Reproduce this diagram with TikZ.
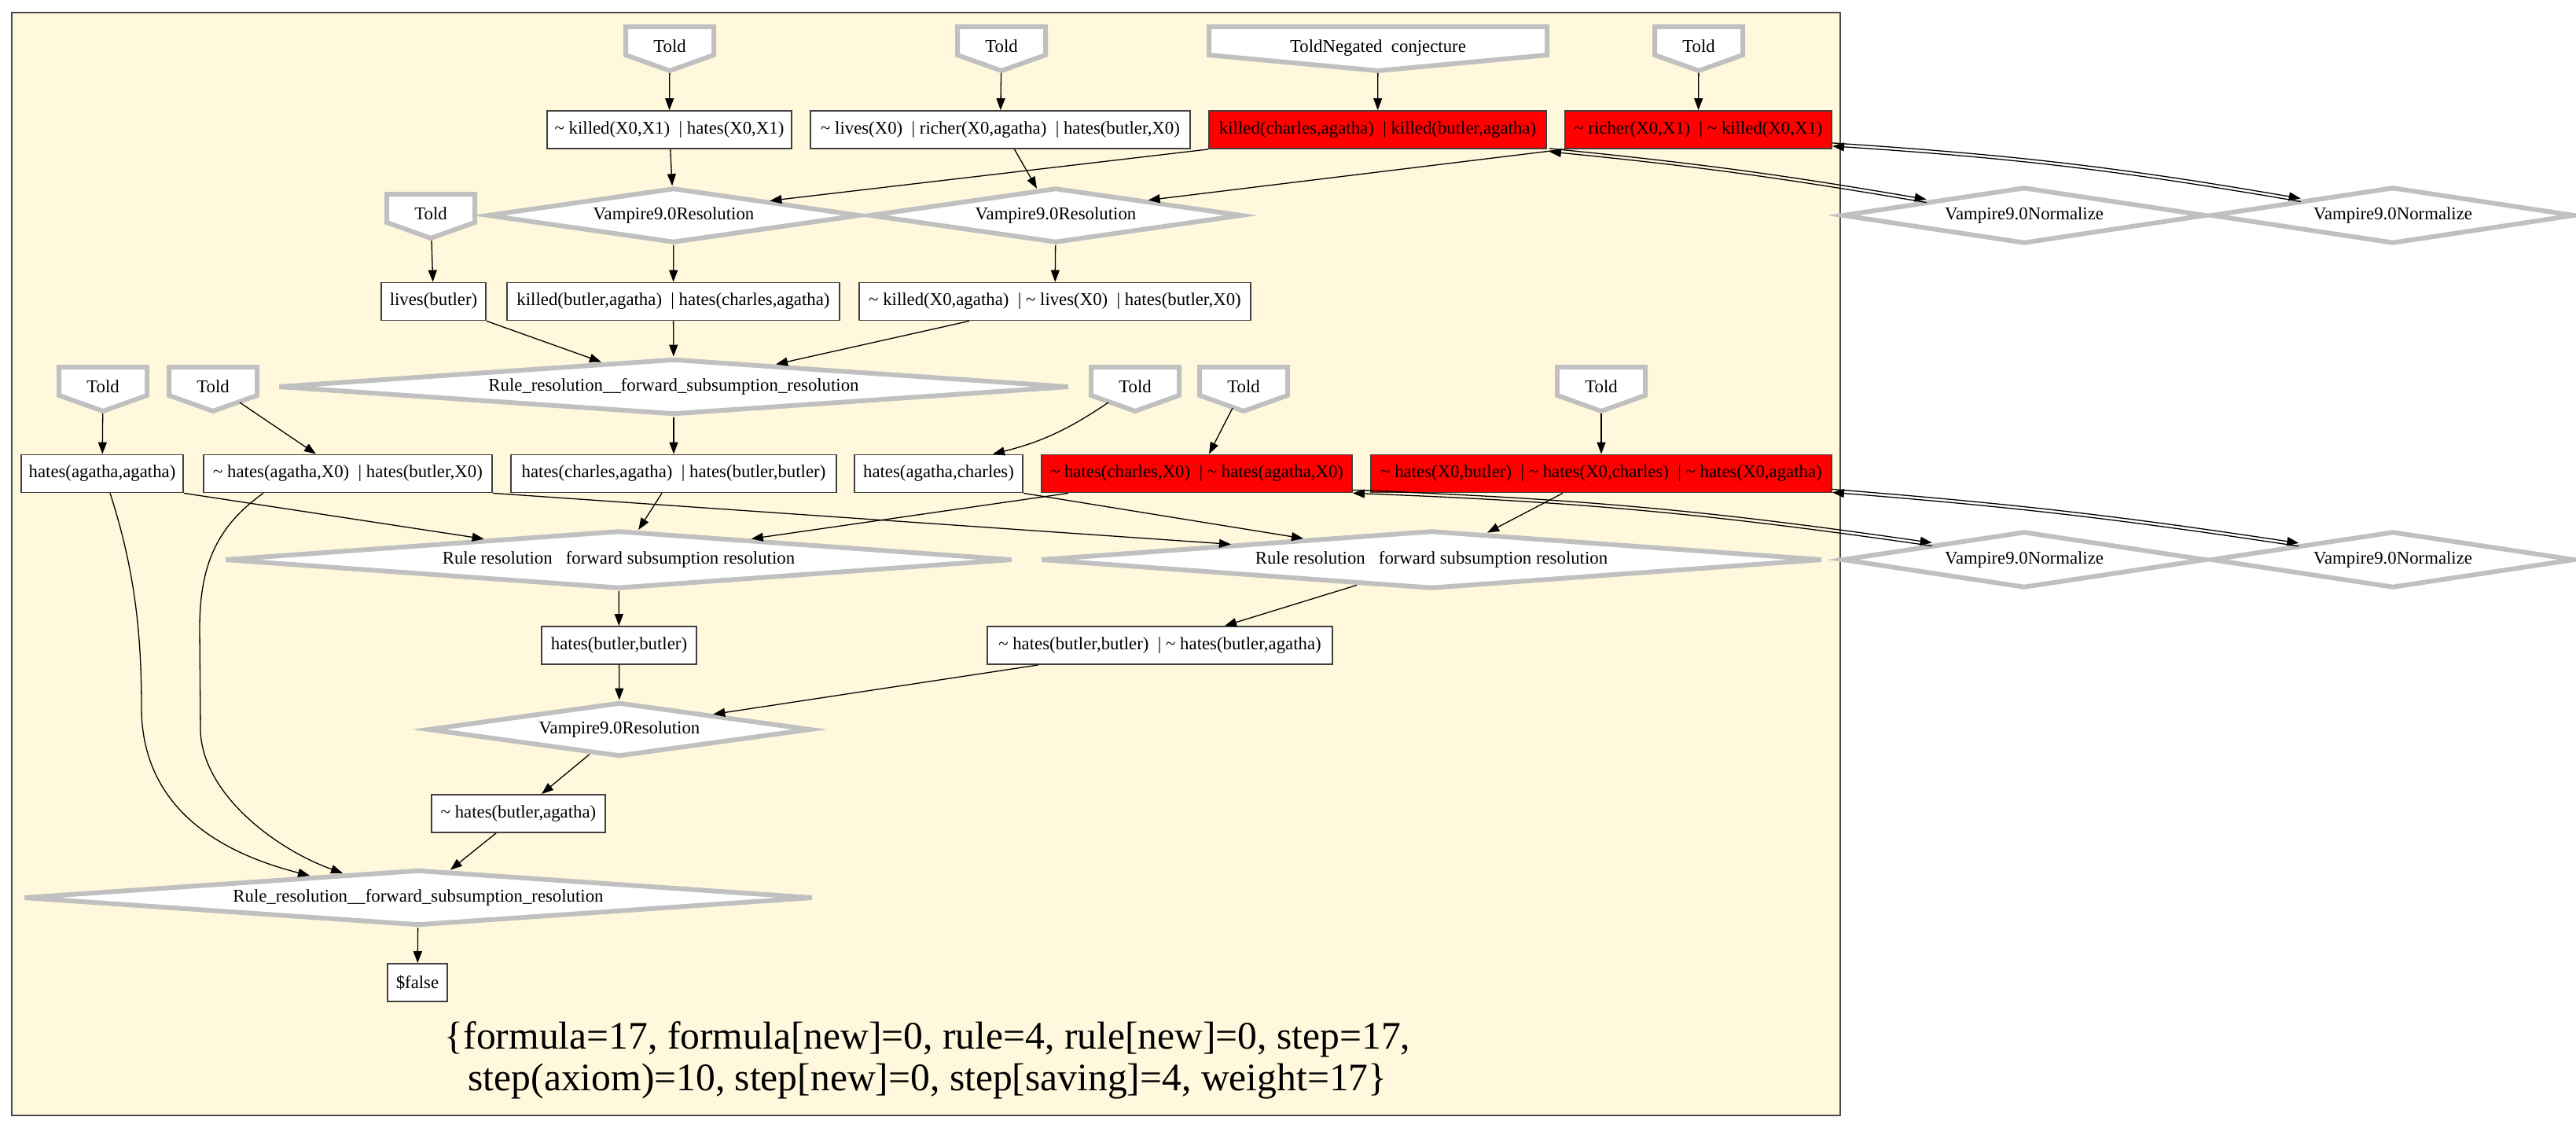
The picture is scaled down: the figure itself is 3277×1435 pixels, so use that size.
\documentclass[tikz,border=0pt]{standalone}
\usepackage{fontspec}
\setmainfont{Liberation Serif}
\usetikzlibrary{shapes.geometric,arrows.meta,calc}
\definecolor{cornsilk}{HTML}{FFF8DC}
\definecolor{gvgray}{HTML}{C0C0C0}
\newcommand{\nfont}{\fontsize{11.4}{13}\selectfont}
\tikzset{
  box/.style={draw=black!75, line width=0.9pt, fill=white, minimum height=24pt, inner sep=0pt, font=\nfont},
  redbox/.style={box, fill=red},
  resd/.style={diamond, draw=gvgray, line width=3pt, fill=white, inner sep=0pt, aspect=6, font=\nfont},
  ruled/.style={diamond, draw=gvgray, line width=3pt, fill=white, inner sep=0pt, aspect=14, font=\nfont},
  toldn/.style={rectangle, minimum height=28pt, inner sep=0pt, outer sep=0pt, font=\nfont},
  toldline/.style={draw=gvgray, line width=3pt, fill=white, line join=miter},
  edge/.style={draw=black, line width=0.65pt, -{Triangle[length=7.5pt,width=5.5pt]}},
  tedge/.style={edge, shorten <=1.5pt},
  redge/.style={draw=black, line width=0.65pt, {Triangle[length=7.5pt,width=5.5pt]}-},
}
\newcommand{\told}[5]{%
  \draw[toldline] (#2-#4,#3-28) -- (#2+#4,#3-28) -- (#2+#4,#3+8) -- (#2,#3+28) -- (#2-#4,#3+8) -- cycle;
  \node[toldn, minimum width=#4pt] (#1) at (#2,#3) {\raisebox{3pt}{#5}};
}
\newcommand{\tl}{\textasciitilde\ }
\begin{document}
\begin{tikzpicture}[x=0.5pt,y=-0.5pt]
\useasboundingbox (0,0) rectangle (3277,1435);
\filldraw[fill=cornsilk, draw=black!70, line width=0.8pt] (15,16) rectangle (2341,1419);

% Told nodes
\told{t1}{852}{62}{56}{Told}
\told{t2}{1274}{62}{56}{Told}
\told{t3}{1753}{62}{215}{ToldNegated\ \ conjecture}
\told{t4}{2161}{62}{56}{Told}
\told{t5}{548}{275}{56}{Told}
\told{tA}{131}{495}{56}{Told}
\told{tB}{271}{495}{56}{Told}
\told{tC}{1444}{495}{56}{Told}
\told{tD}{1582}{495}{56}{Told}
\told{tE}{2037}{495}{56}{Told}

% clause boxes
\node[box, minimum width=155.5pt] (b1) at (851.5,165) {\tl killed(X0,X1)\ \ |\ hates(X0,X1)};
\node[box, minimum width=241.5pt] (b2) at (1272.5,165) {\tl lives(X0)\ \ |\ richer(X0,agatha)\ \ |\ hates(butler,X0)};
\node[redbox, minimum width=214.5pt] (b3) at (1752.5,165) {killed(charles,agatha)\ \ |\ killed(butler,agatha)};
\node[redbox, minimum width=169.5pt] (b4) at (2160.5,165) {\tl richer(X0,X1)\ \ |\ \tl killed(X0,X1)};
\node[box, minimum width=66.5pt] (b5) at (551.5,383.5) {lives(butler)};
\node[box, minimum width=211.5pt] (b6) at (856.5,383.5) {killed(butler,agatha)\ \ |\ hates(charles,agatha)};
\node[box, minimum width=249pt] (b7) at (1342,383.5) {\tl killed(X0,agatha)\ \ |\ \tl lives(X0)\ \ |\ hates(butler,X0)};
\node[box, minimum width=103pt] (b8) at (130,602.5) {hates(agatha,agatha)};
\node[box, minimum width=183.5pt] (b9) at (442.5,602.5) {\tl hates(agatha,X0)\ \ |\ hates(butler,X0)};
\node[box, minimum width=207pt] (b10) at (857,602.5) {hates(charles,agatha)\ \ |\ hates(butler,butler)};
\node[box, minimum width=107pt] (b11) at (1194,602.5) {hates(agatha,charles)};
\node[redbox, minimum width=197.5pt] (b12) at (1522.5,602.5) {\tl hates(charles,X0)\ \ |\ \tl hates(agatha,X0)};
\node[redbox, minimum width=293pt] (b13) at (2037,602.5) {\tl hates(X0,butler)\ \ |\ \tl hates(X0,charles)\ \ |\ \tl hates(X0,agatha)};
\node[box, minimum width=98.5pt] (b14) at (787.5,821) {hates(butler,butler)};
\node[box, minimum width=219.5pt] (b15) at (1475.5,821) {\tl hates(butler,butler)\ \ |\ \tl hates(butler,agatha)};
\node[box, minimum width=110.5pt] (b16) at (659.5,1035) {\tl hates(butler,agatha)};
\node[box, minimum width=38pt] (b17) at (531,1250) {\$false};

% inference diamonds
\node[resd, minimum width=237pt, minimum height=35pt] (r1) at (857,274) {Vampire9.0Resolution};
\node[resd, minimum width=237pt, minimum height=35pt] (r2) at (1343,274) {Vampire9.0Resolution};
\node[resd, minimum width=231.5pt, minimum height=36pt] (n1) at (2575,274) {Vampire9.0Normalize};
\node[resd, minimum width=231.5pt, minimum height=36pt] (n2) at (3044,274) {Vampire9.0Normalize};
\node[ruled, minimum width=503pt, minimum height=35.5pt] (R1) at (857,492) {Rule\_resolution\_\_forward\_subsumption\_resolution};
\node[ruled, minimum width=501pt, minimum height=37pt] (R2) at (787,712) {Rule\ resolution\ \ \ forward\ subsumption\ resolution};
\node[ruled, minimum width=497pt, minimum height=37pt] (R3) at (1821,712) {Rule\ resolution\ \ \ forward\ subsumption\ resolution};
\node[resd, minimum width=231.5pt, minimum height=36pt] (n3) at (2575,712) {Vampire9.0Normalize};
\node[resd, minimum width=231.5pt, minimum height=36pt] (n4) at (3044,712) {Vampire9.0Normalize};
\node[resd, minimum width=243.5pt, minimum height=34.5pt] (r3) at (788,928) {Vampire9.0Resolution};
\node[ruled, minimum width=502pt, minimum height=35.5pt] (R4) at (532,1142) {Rule\_resolution\_\_forward\_subsumption\_resolution};

% statistics label
\node[font=\fontsize{24.8}{26.5}\selectfont, align=center] (lbl) at (1180,1349)
  {\{formula=17, formula[new]=0, rule=4, rule[new]=0, step=17,\\ step(axiom)=10, step[new]=0, step[saving]=4, weight=17\}};

% edges from Told
\draw[tedge] (t1) -- (b1);
\draw[tedge] (t2) -- (b2);
\draw[tedge] (t3) -- (b3);
\draw[tedge] (t4) -- (b4);
\draw[tedge] (t5) -- (b5);
\draw[tedge] (tA) -- (b8);
\draw[edge] ($(tB.center)+(34,17)$) -- ($(b9.north)+(-40.5,0)$);
\draw[edge] ($(tC.center)+(-34,17)$) to[bend left=10] ($(b11.north)+(69,0)$);
\draw[edge] ($(tD.center)+(-14,24)$) -- ($(b12.north)+(15.5,0)$);
\draw[tedge] (tE) -- (b13);

% upper part
\draw[edge] (b1) -- (r1);
\draw[edge] ($(b2.south)+(18,0)$) -- ($(r2.west)!0.9!(r2.north)$);
\draw[edge] (b3.south west) -- ($(r1.north)!0.51!(r1.east)$);
\draw[edge] (b4.south west) -- ($(r2.north)!0.49!(r2.east)$);
\draw[edge] (r1) -- (b6);
\draw[edge] (r2) -- (b7);
\draw[edge] (b5.south east) -- ($(R1.west)!0.818!(R1.north)$);
\draw[edge] (b6) -- (R1);
\draw[edge] ($(b7.south west)+(141,0)$) -- ($(R1.north)!0.257!(R1.east)$);
\draw[edge] (R1) -- (b10);

% middle part
\draw[edge] (b8.south east) -- ($(R2.west)!0.66!(R2.north)$);
\draw[edge] ($(b10.south)+(-15,0)$) -- ($(R2.north)!0.05!(R2.east)$);
\draw[edge] ($(b12.south west)+(35,0)$) -- ($(R2.north)!0.335!(R2.east)$);
\draw[edge] (b9.south east) -- ($(R3.west)!0.49!(R3.north)$);
\draw[edge] (b11.south east) -- ($(R3.west)!0.674!(R3.north)$);
\draw[edge] ($(b13.south)+(-49,0)$) -- ($(R3.north)!0.142!(R3.east)$);
\draw[edge] (R2) -- (b14);
\draw[edge] ($(R3.west)!0.81!(R3.south)$) -- ($(b15.north)+(82.5,0)$);
\draw[edge] (b14) -- (r3);
\draw[edge] ($(b15.south west)+(66,0)$) -- ($(r3.north)!0.484!(r3.east)$);
\draw[edge] ($(r3.west)!0.845!(r3.south)$) -- ($(b16.north)+(29.5,0)$);
\draw[edge] ($(b16.south)+(-28.5,0)$) -- ($(R4.north)!0.081!(R4.east)$);
\draw[edge] (R4) -- (b17);

% long curves
\draw[edge] ($(b8.south)+(10,0)$) .. controls (170,720) and (180,800) .. (180,900) .. controls (180,1040) and (300,1090) .. ($(R4.west)!0.727!(R4.north)$);
\draw[edge] ($(b9.south)+(-107.5,0)$) .. controls (275,670) and (254,720) .. (254,800) -- (255,930) .. controls (258,1010) and (350,1080) .. ($(R4.west)!0.81!(R4.north)$);

% normalize pairs
\coordinate (n1a) at ($(n1.west)!0.47!(n1.north)$);
\draw[edge] ($(b3.south east)+(3,-1)$) to[bend left=2] ($(n1a)+(0,-2)$);
\draw[edge] ($(n1a)+(0,2)$) to[bend right=2] ($(b3.south east)+(3,3)$);
\coordinate (n2a) at ($(n2.west)!0.5!(n2.north)$);
\draw[edge] ($(b4.south east)+(0,-8)$) to[bend left=3] ($(n2a)+(0,-2)$);
\draw[edge] ($(n2a)+(0,2)$) to[bend right=3] ($(b4.south east)+(0,-4)$);
\coordinate (n3a) at ($(n3.west)!0.5!(n3.north)$);
\draw[edge] ($(b12.south east)+(0,-4)$) to[bend left=3] ($(n3a)+(0,-2)$);
\draw[edge] ($(n3a)+(0,2)$) to[bend right=3] ($(b12.south east)+(0,0)$);
\coordinate (n4a) at ($(n4.west)!0.49!(n4.north)$);
\draw[edge] ($(b13.south east)+(0,-5)$) to[bend left=2] ($(n4a)+(0,-2)$);
\draw[edge] ($(n4a)+(0,2)$) to[bend right=2] ($(b13.south east)+(0,-1)$);
\end{tikzpicture}
\end{document}
